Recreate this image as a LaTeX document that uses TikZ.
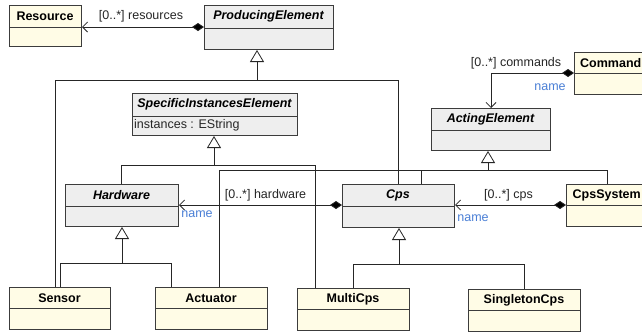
\documentclass[tikz,border=0pt]{standalone}
\usepackage{fontspec}
\setmainfont{Liberation Sans}
\usetikzlibrary{arrows.meta}
\definecolor{yel}{RGB}{255,252,230}
\definecolor{gry}{RGB}{238,238,238}
\definecolor{bord}{RGB}{60,60,60}
\definecolor{nameblue}{RGB}{74,127,214}
\begin{document}
\begin{tikzpicture}[x=1pt,y=-1pt,
  font=\fontsize{12.5}{15}\selectfont,
  cls/.style={draw=bord, line width=1pt, anchor=north west, inner sep=0pt, fill=#1},
  sep/.style={draw=bord, line width=0.8pt},
  ttl/.style={font=\fontsize{12.5}{15}\selectfont\bfseries, inner sep=0pt},
  attl/.style={font=\fontsize{12.5}{15}\selectfont\bfseries\itshape, inner sep=0pt},
  lbl/.style={inner sep=0pt, text=black!85},
  nm/.style={inner sep=0pt, text=nameblue},
  conn/.style={draw=black!85, line width=0.8pt},
  gen/.style={conn, -{Triangle[open, length=12pt, width=14pt, fill=white]}},
  assoc/.style={conn, {Diamond[length=12pt, width=8pt, fill=black]}-{Straight Barb[length=5pt, width=10pt]}}
]
\useasboundingbox (0,0) rectangle (642,335);
\fill[white] (0,0) rectangle (642,335);
\clip (0,0) rectangle (642,335);

% ---------- classes ----------
\node[cls=yel, minimum width=72pt, minimum height=41pt] (res) at (9,5) {};
\draw[sep] (res.west |- 0,27) -- (res.east |- 0,27);
\node[ttl] (resT) at (45,16) {Resource};

\node[cls=gry, minimum width=129pt, minimum height=44pt] (prod) at (204,5) {};
\draw[sep] (prod.west |- 0,28) -- (prod.east |- 0,28);
\node[attl] (prodT) at (268.5,16.5) {ProducingElement};

\node[cls=gry, minimum width=165pt, minimum height=42pt] (sie) at (132,93) {};
\draw[sep] (sie.west |- 0,116) -- (sie.east |- 0,116);
\node[attl] (sieT) at (214.5,104.5) {SpecificInstancesElement};
\node[lbl, anchor=west] (sieA) at (134,125.5) {instances : EString};

\node[cls=gry, minimum width=119pt, minimum height=42pt] (act) at (431,108) {};
\draw[sep] (act.west |- 0,130) -- (act.east |- 0,130);
\node[attl] (actT) at (490.5,119) {ActingElement};

\node[cls=yel, minimum width=90pt, minimum height=42pt] (cmd) at (574,52) {};
\draw[sep] (cmd.west |- 0,73) -- (cmd.east |- 0,73);
\node[ttl, anchor=west] (cmdT) at (580,63) {Command};

\node[cls=gry, minimum width=113pt, minimum height=42pt] (hw) at (65,184) {};
\draw[sep] (hw.west |- 0,206) -- (hw.east |- 0,206);
\node[attl] (hwT) at (121.5,195) {Hardware};

\node[cls=gry, minimum width=112pt, minimum height=43pt] (cps) at (342,184) {};
\draw[sep] (cps.west |- 0,206) -- (cps.east |- 0,206);
\node[attl] (cpsT) at (398,195) {Cps};

\node[cls=yel, minimum width=90pt, minimum height=42pt] (sys) at (566,184) {};
\draw[sep] (sys.west |- 0,205) -- (sys.east |- 0,205);
\node[ttl, anchor=west] (sysT) at (572.5,195) {CpsSystem};

\node[cls=yel, minimum width=101pt, minimum height=42pt] (sen) at (9,287) {};
\draw[sep] (sen.west |- 0,308) -- (sen.east |- 0,308);
\node[ttl] (senT) at (59.5,298) {Sensor};

\node[cls=yel, minimum width=112pt, minimum height=42pt] (actu) at (155,287) {};
\draw[sep] (actu.west |- 0,308) -- (actu.east |- 0,308);
\node[ttl] (actuT) at (211,298) {Actuator};

\node[cls=yel, minimum width=112pt, minimum height=42pt] (multi) at (297,288) {};
\draw[sep] (multi.west |- 0,309) -- (multi.east |- 0,309);
\node[ttl] (multiT) at (353,299) {MultiCps};

\node[cls=yel, minimum width=112pt, minimum height=42pt] (single) at (468,289) {};
\draw[sep] (single.west |- 0,310) -- (single.east |- 0,310);
\node[ttl] (singleT) at (524,300) {SingletonCps};

% ---------- generalizations ----------
\coordinate (pj) at (257,80);
\coordinate (pr) at (398,80);
\draw[conn] (sen.north -| 55,0) |- (pr) -- (cps.north -| pr);
\draw[gen] (pj) -- (prod.south -| pj);

\coordinate (sj) at (214,165);
\coordinate (sr) at (315,165);
\draw[conn] (hw.north -| 121,0) |- (sr) -- (multi.north -| sr);
\draw[gen] (sj) -- (sie.south -| sj);

\coordinate (aj) at (488,170);
\coordinate (ar) at (607,170);
\coordinate (am) at (421,170);
\draw[conn] (actu.north -| 219,0) |- (ar) -- (sys.north -| ar);
\draw[conn] (am) -- (cps.north -| am);
\draw[gen] (aj) -- (act.south -| aj);

\coordinate (hj) at (122,263);
\coordinate (hr) at (171,263);
\draw[conn] (sen.north -| 60,0) |- (hr) -- (actu.north -| hr);
\draw[gen] (hj) -- (hw.south -| hj);

\coordinate (cj) at (399,264);
\coordinate (cr) at (524,264);
\draw[conn] (multi.north -| 353,0) |- (cr) -- (single.north -| cr);
\draw[gen] (cj) -- (cps.south -| cj);

% ---------- associations ----------
\draw[assoc] (prod.west |- 0,27) -- (res.east |- 0,27);
\node[lbl] (resL) at (141,16) {[0..*] resources};

\draw[assoc] (cmd.west |- 0,73) -| (act.north -| 491,0);
\node[lbl] (cmdL) at (516,63) {[0..*] commands};
\node[nm] (cmdN) at (550,87) {name};

\draw[assoc] (cps.west |- 0,205) -- (hw.east |- 0,205);
\node[lbl] (hwL) at (265.5,195) {[0..*] hardware};
\node[nm] (hwN) at (197,214) {name};

\draw[assoc] (sys.west |- 0,205) -- (cps.east |- 0,205);
\node[lbl] (cpsL) at (508.5,195) {[0..*] cps};
\node[nm] (cpsN) at (473,218) {name};
\end{tikzpicture}
\end{document}
